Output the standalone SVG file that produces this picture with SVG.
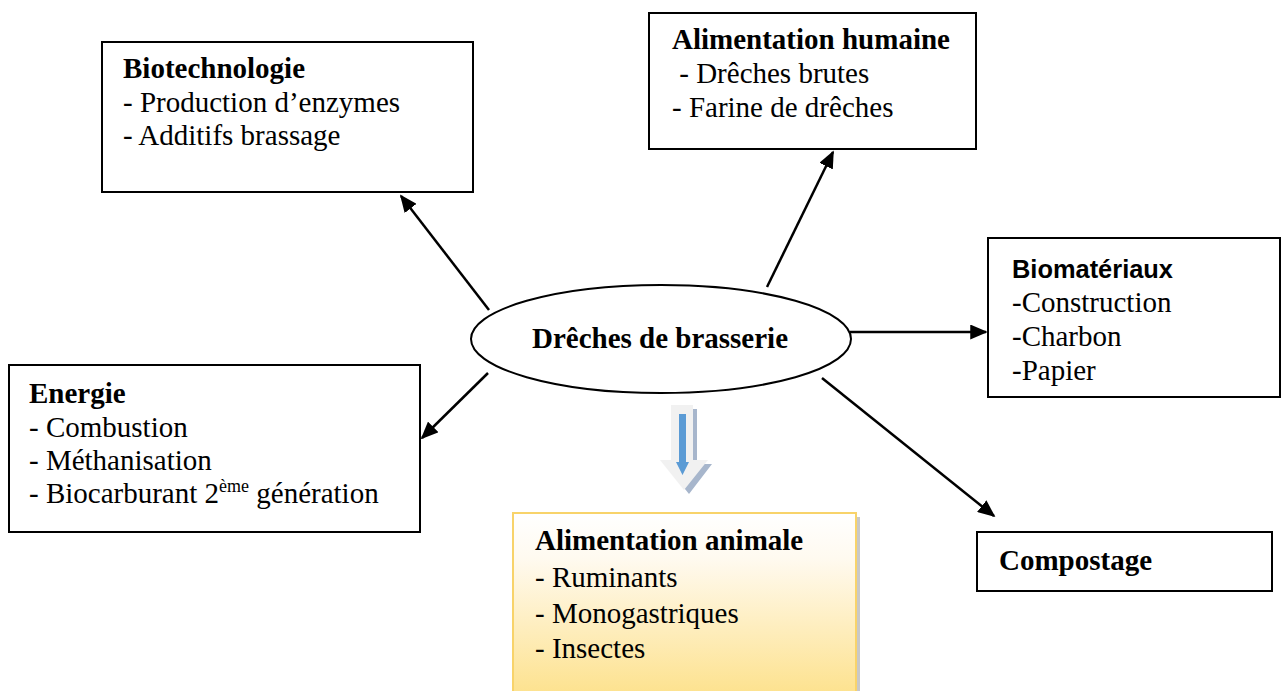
<svg xmlns="http://www.w3.org/2000/svg" width="1282" height="691" viewBox="0 0 1282 691">
<style>
.box{fill:#fff;stroke:#000;stroke-width:2}
.t{font-family:"Liberation Serif","Times New Roman",serif;font-size:29px;fill:#000}
.b{font-weight:bold}
.s{font-family:"Liberation Sans",Arial,sans-serif;font-weight:bold;font-size:26px;fill:#000}
.c{stroke:#000;stroke-width:2.5;fill:none;marker-end:url(#ah)}
</style>
<defs>
<marker id="ah" viewBox="0 0 10 10" refX="9" refY="5" markerWidth="7" markerHeight="6" orient="auto" markerUnits="strokeWidth" preserveAspectRatio="none">
<path d="M0,0 L10,5 L0,10 z" fill="#000"/>
</marker>
<linearGradient id="yg" x1="0" y1="0" x2="0" y2="1">
<stop offset="0" stop-color="#ffffff"/>
<stop offset="0.25" stop-color="#fffaf0"/>
<stop offset="1" stop-color="#fde28f"/>
</linearGradient>
</defs>
<rect width="1282" height="691" fill="#fff"/>
<g id="connectors">
<line class="c" x1="489" y1="310" x2="401" y2="196"/>
<line class="c" x1="767" y1="287" x2="833" y2="152"/>
<line class="c" x1="850" y1="332" x2="986" y2="332"/>
<line class="c" x1="488" y1="373" x2="422" y2="438"/>
<line class="c" x1="822" y1="378" x2="994" y2="516"/>
</g>
<g id="down-arrow">
<path d="M675,409 H697 V464 H712 L689,494 L665,464 H675 Z" fill="#a7b6cc"/>
<path d="M671,405 H693 V460 H708 L684,490 L660,460 H671 Z" fill="#f1f1f1"/>
<path d="M679,414 H686 V462 H689 L682.5,475 L676,462 H679 Z" fill="#5b9bd5"/>
</g>
<g id="center">
<ellipse cx="661" cy="339" rx="190" ry="54" fill="#fff" stroke="#000" stroke-width="2"/>
<text class="t b" x="660" y="348" text-anchor="middle">Drêches de brasserie</text>
</g>
<g id="biotechnologie">
<rect class="box" x="102" y="42" width="371" height="150"/>
<text class="t b" x="123" y="78">Biotechnologie</text>
<text class="t" x="123" y="112">- Production d’enzymes</text>
<text class="t" x="123" y="145">- Additifs brassage</text>
</g>
<g id="alimentation-humaine">
<rect class="box" x="649" y="13" width="327" height="136"/>
<text class="t b" x="672" y="49">Alimentation humaine</text>
<text class="t" x="672" y="83" xml:space="preserve"> - Drêches brutes</text>
<text class="t" x="672" y="117">- Farine de drêches</text>
</g>
<g id="biomateriaux">
<rect class="box" x="988" y="238" width="292" height="159"/>
<text class="s" x="1012" y="278" textLength="161" lengthAdjust="spacingAndGlyphs">Biomatériaux</text>
<text class="t" x="1012" y="312">-Construction</text>
<text class="t" x="1012" y="346">-Charbon</text>
<text class="t" x="1012" y="380">-Papier</text>
</g>
<g id="energie">
<rect class="box" x="9" y="365" width="411" height="167"/>
<text class="t b" x="29" y="403">Energie</text>
<text class="t" x="29" y="437">- Combustion</text>
<text class="t" x="29" y="470">- Méthanisation</text>
<text class="t" x="29" y="503">- Biocarburant 2<tspan font-size="18" dy="-11">ème</tspan><tspan dy="11"> génération</tspan></text>
</g>
<g id="compostage">
<rect class="box" x="977" y="532" width="295" height="59"/>
<text class="t b" x="999" y="570">Compostage</text>
</g>
<g id="alimentation-animale">
<rect x="517" y="517" width="343" height="180" fill="#c8c8c8"/>
<rect x="513" y="513" width="343" height="180" fill="url(#yg)" stroke="#f8d36a" stroke-width="2"/>
<text class="t b" x="535" y="550">Alimentation animale</text>
<text class="t" x="535" y="587">- Ruminants</text>
<text class="t" x="535" y="623">- Monogastriques</text>
<text class="t" x="535" y="658">- Insectes</text>
</g>
</svg>
